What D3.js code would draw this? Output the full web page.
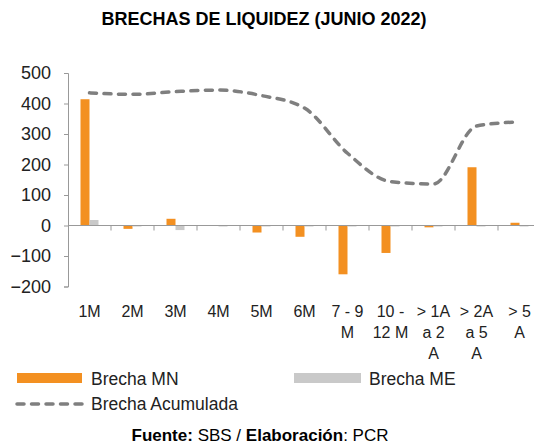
<!DOCTYPE html>
<html>
<head>
<meta charset="utf-8">
<script src="https://cdn.jsdelivr.net/npm/d3@7"></script>
<style>
  body { margin: 0; background: #fff; }
  svg { font-family: "Liberation Sans", Arial, sans-serif; }
</style>
</head>
<body>
<svg width="534" height="445"></svg>
<script>
const categories = [
    ['1M'], ['2M'], ['3M'], ['4M'], ['5M'], ['6M'],
    ['7 - 9', 'M'], ['10 -', '12 M'], ['> 1A', 'a 2', 'A'], ['> 2A', 'a 5', 'A'], ['> 5', 'A']
]
const brechaMN = [414, -11, 22, -1, -23, -37, -160, -90, -6, 191, 9]
const brechaME = [18, -3, -15, -3, -3, -2, -2, -3, -3, 0, 0]
const brechaAcum = [435, 430, 439, 444, 426, 385, 237, 144, 136, 326, 340]
const yTicks = [500, 400, 300, 200, 100, 0, -100, -200]

const ORANGE = '#F39021'
const GREY = '#C9C9C9'
const LINE = '#7F7F7F'

const svg = d3.select('svg')

svg.append('text')
    .attr('x', 264)
    .attr('y', 25)
    .attr('text-anchor', 'middle')
    .attr('font-weight', 'bold')
    .attr('font-size', 18)
    .attr('fill', '#000')
    .text('BRECHAS DE LIQUIDEZ (JUNIO 2022)')

const idx = categories.map((d, i) => i)
const x = d3.scaleBand()
    .domain(idx)
    .range([68, 541])

const y = d3.scaleLinear()
    .domain([-200, 500])
    .range([286.5, 73])

// y axis
const yAxis = svg.append('g')
    .attr('transform', 'translate(68,0)')
    .call(d3.axisLeft(y).tickValues(yTicks).tickSize(4).tickPadding(13))
yAxis.select('.domain').attr('stroke', '#999')
yAxis.selectAll('.tick line').attr('stroke', '#999')
yAxis.selectAll('.tick text')
    .attr('font-size', 18)
    .attr('fill', '#222')
    .attr('font-family', '"Liberation Sans", Arial, sans-serif')

// bars
const bw = 9
svg.append('g')
    .selectAll('rect')
    .data(brechaMN)
    .enter()
    .append('rect')
    .attr('x', (d, i) => x(i) + x.bandwidth() / 2 - bw)
    .attr('y', d => y(Math.max(0, d)))
    .attr('width', bw)
    .attr('height', d => Math.abs(y(d) - y(0)))
    .attr('fill', ORANGE)

svg.append('g')
    .selectAll('rect')
    .data(brechaME)
    .enter()
    .append('rect')
    .attr('x', (d, i) => x(i) + x.bandwidth() / 2)
    .attr('y', d => y(Math.max(0, d)))
    .attr('width', bw)
    .attr('height', d => Math.max(1, Math.abs(y(d) - y(0))))
    .attr('fill', GREY)

// x axis at zero
const xAxis = svg.append('g')
    .attr('transform', `translate(0,${y(0)})`)
xAxis.append('line')
    .attr('x1', 68).attr('x2', 541)
    .attr('stroke', '#999')
xAxis.selectAll('line.tk')
    .data(idx.slice(1))
    .enter()
    .append('line')
    .attr('class', 'tk')
    .attr('x1', d => x(d)).attr('x2', d => x(d))
    .attr('y1', 0).attr('y2', 5)
    .attr('stroke', '#999')

// x labels
const labels = svg.append('g')
    .selectAll('text')
    .data(categories)
    .enter()
    .append('text')
    .attr('text-anchor', 'middle')
    .attr('font-size', 16)
    .attr('fill', '#222')
labels.selectAll('tspan')
    .data((d, i) => d.map(t => ({ t, i })))
    .enter()
    .append('tspan')
    .attr('x', d => x(d.i) + x.bandwidth() / 2)
    .attr('y', (d, j) => 317 + j * 21)
    .text(d => d.t)

// line
const line = d3.line()
    .x((d, i) => x(i) + x.bandwidth() / 2)
    .y(d => y(d))
    .curve(d3.curveMonotoneX)
svg.append('path')
    .datum(brechaAcum)
    .attr('d', line)
    .attr('fill', 'none')
    .attr('stroke', LINE)
    .attr('stroke-width', 3.5)
    .attr('stroke-dasharray', '7,7.5')
    .attr('stroke-linecap', 'round')

// legend
const legend = svg.append('g').attr('font-size', 17.5).attr('fill', '#222')
legend.append('rect').attr('x', 17).attr('y', 373).attr('width', 65).attr('height', 10).attr('fill', ORANGE)
legend.append('text').attr('x', 91).attr('y', 385).text('Brecha MN')
legend.append('rect').attr('x', 294).attr('y', 373).attr('width', 67).attr('height', 10).attr('fill', GREY)
legend.append('text').attr('x', 369).attr('y', 385).text('Brecha ME')
legend.append('line')
    .attr('x1', 17).attr('x2', 82).attr('y1', 404).attr('y2', 404)
    .attr('stroke', LINE).attr('stroke-width', 3.5)
    .attr('stroke-dasharray', '7,7.5').attr('stroke-linecap', 'round')
legend.append('text').attr('x', 91).attr('y', 410).text('Brecha Acumulada')

// source
const src = svg.append('text')
    .attr('x', 260)
    .attr('y', 441)
    .attr('text-anchor', 'middle')
    .attr('font-size', 17)
    .attr('fill', '#000')
src.append('tspan').attr('font-weight', 'bold').text('Fuente:')
src.append('tspan').text(' SBS / ')
src.append('tspan').attr('font-weight', 'bold').text('Elaboración')
src.append('tspan').text(': PCR')
</script>
</body>
</html>
